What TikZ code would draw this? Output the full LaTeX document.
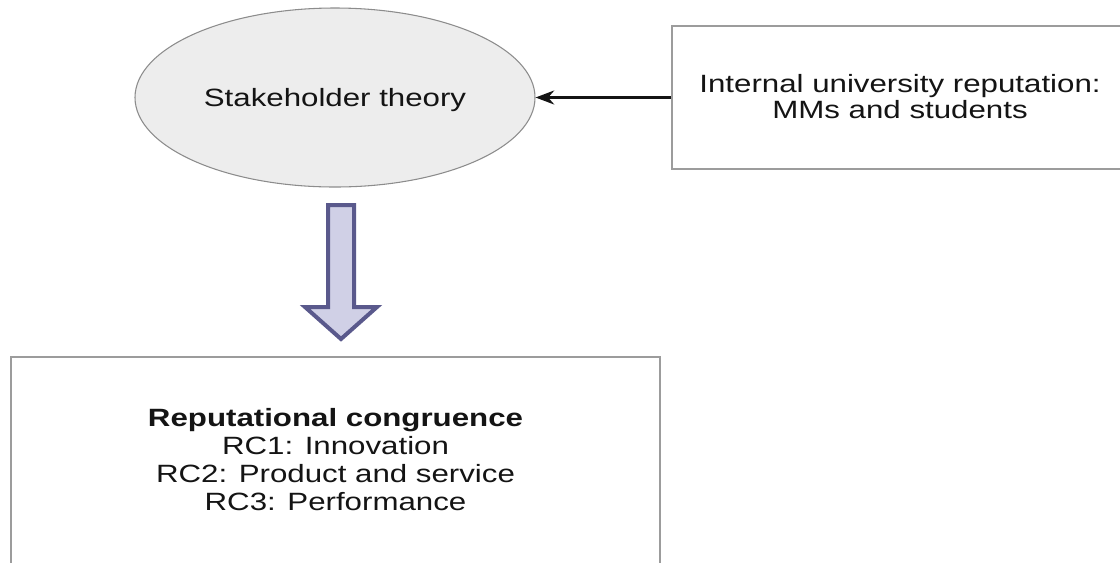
\documentclass[tikz,border=0pt]{standalone}
\usepackage{fontspec}
\usepackage{graphicx}
\setmainfont{Liberation Sans}
\usetikzlibrary{shapes.geometric,arrows.meta}

\definecolor{boxline}{HTML}{9C9C9C}
\definecolor{ellfill}{HTML}{EDEDED}
\definecolor{ellline}{HTML}{8C8C8C}
\definecolor{bigarrowfill}{HTML}{D0D0E6}
\definecolor{bigarrowline}{HTML}{5A598C}
\definecolor{ink}{HTML}{141414}

% text set a little wider than the plain font; baseline = first line
\newcommand\widetext[1]{\scalebox{1.25}[1]{\begin{tabular}[t]{@{}c@{}}#1\end{tabular}}}

\tikzset{
  framebox/.style={draw=boxline, line width=1.4pt, fill=white, rectangle,
    inner sep=0pt},
  theorybubble/.style={draw=ellline, line width=0.8pt, fill=ellfill, ellipse,
    inner sep=0pt},
  label text/.style={inner sep=0pt, anchor=base, text=ink},
  linkarrow/.style={draw=ink, line width=2.1pt,
    -{Stealth[length=14pt, width=10.5pt, inset=4.5pt]}},
  blockarrow/.style={draw=bigarrowline, fill=bigarrowfill, line width=3pt,
    line join=miter}
}

\begin{document}
\begin{tikzpicture}[x=0.75pt, y=-0.75pt]
\useasboundingbox (0,0) rectangle (1120,562);
\clip (0,0) rectangle (1120,562);

% theory ellipse
\node[theorybubble, minimum width=300pt, minimum height=134.25pt]
  (theory) at (335,97.5) {};
\node[label text, font=\fontsize{18.75}{21}\selectfont]
  (theorytext) at ([yshift=-6.4pt]theory.center) {\widetext{Stakeholder theory}};

% internal reputation box (runs past the right edge)
\node[framebox, minimum width=342pt, minimum height=107.25pt]
  (internal) at (900,97.5) {};
\node[label text, font=\fontsize{18.75}{19.5}\selectfont]
  (internaltext) at ([yshift=3.4pt]internal.center)
  {\widetext{Internal university reputation:\\MMs and students}};

% reputational congruence box (runs past the bottom edge)
\node[framebox, minimum width=486.75pt, minimum height=172.5pt]
  (congruence) at (335.5,472) {};
\node[label text, font=\fontsize{18.75}{21}\selectfont]
  (congruencetext) at ([yshift=34.5pt]congruence.center)
  {\widetext{\textbf{Reputational congruence}\\RC1: Innovation\\RC2: Product and service\\RC3: Performance}};

% link from the reputation box to the theory
\draw[linkarrow] (internal.west) -- (theory.east);

% hollow block arrow from the theory down to the congruence box
\draw[blockarrow] (328,205) -- (354,205) -- (354,307) -- (377,307)
  -- (341,339) -- (305,307) -- (328,307) -- cycle;
\end{tikzpicture}
\end{document}
